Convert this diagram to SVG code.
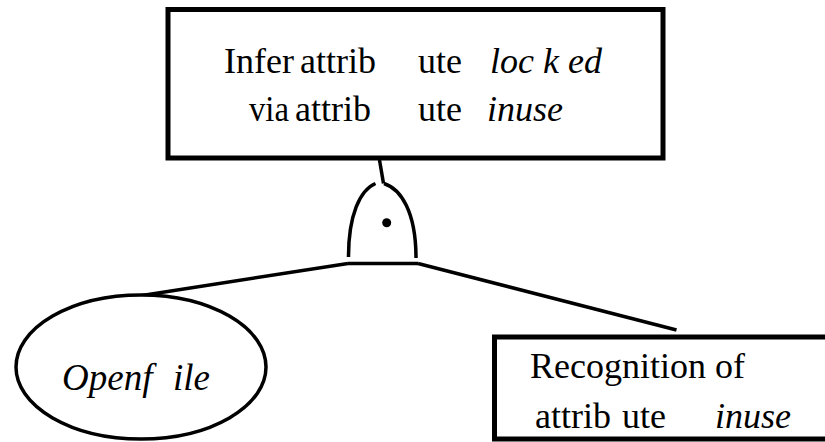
<svg xmlns="http://www.w3.org/2000/svg" width="825" height="442" viewBox="0 0 825 442">
<style>
text{font-family:'Liberation Serif','Times New Roman',Tinos,'DejaVu Serif',serif;font-size:36px;fill:#000}
.i{font-style:italic}
.box{fill:#fff;stroke:#000;stroke-width:5}
.ln{fill:none;stroke:#000;stroke-width:3.5;stroke-linecap:butt}
</style>
<rect width="825" height="442" fill="#fff"/>
<g id="connectors">
<line class="ln" x1="379.5" y1="160" x2="383.5" y2="183.5"/>
<line class="ln" x1="348" y1="263.5" x2="142" y2="295.5"/>
<line class="ln" x1="418" y1="263.5" x2="676.5" y2="330"/>
</g>
<g id="gate">
<path class="ln" d="M348.5,257 C348.5,215 360,190 375.5,183.5"/>
<path class="ln" d="M384,183.5 C401,189 416,212 416,258"/>
<line class="ln" x1="348" y1="263.5" x2="418" y2="263.5" stroke-width="3"/>
<circle cx="386.7" cy="222.7" r="4.5" fill="#000"/>
</g>
<g id="top">
<rect class="box" x="168" y="9.5" width="495" height="148.5"/>
<text y="72.5"><tspan x="224">Infer</tspan><tspan x="300">attrib</tspan><tspan x="418">ute</tspan><tspan class="i" x="490">loc</tspan><tspan class="i" x="543">k</tspan><tspan class="i" x="568">ed</tspan></text>
<text x="249" y="121" textLength="40" lengthAdjust="spacingAndGlyphs">via</text>
<text y="121"><tspan x="295">attrib</tspan><tspan x="418">ute</tspan><tspan class="i" x="487">inuse</tspan></text>
</g>
<g id="openfile">
<ellipse cx="141" cy="367" rx="125" ry="72" fill="#fff" stroke="#000" stroke-width="3.5"/>
<text class="i" y="390" style="font-size:37px"><tspan x="62">Openf</tspan><tspan x="173">ile</tspan></text>
</g>
<g id="recognition">
<rect class="box" x="494.5" y="337" width="340" height="102"/>
<text x="530" y="378">Recognition of</text>
<text y="428"><tspan x="535">attrib</tspan><tspan x="622">ute</tspan><tspan class="i" x="715">inuse</tspan></text>
</g>
</svg>
